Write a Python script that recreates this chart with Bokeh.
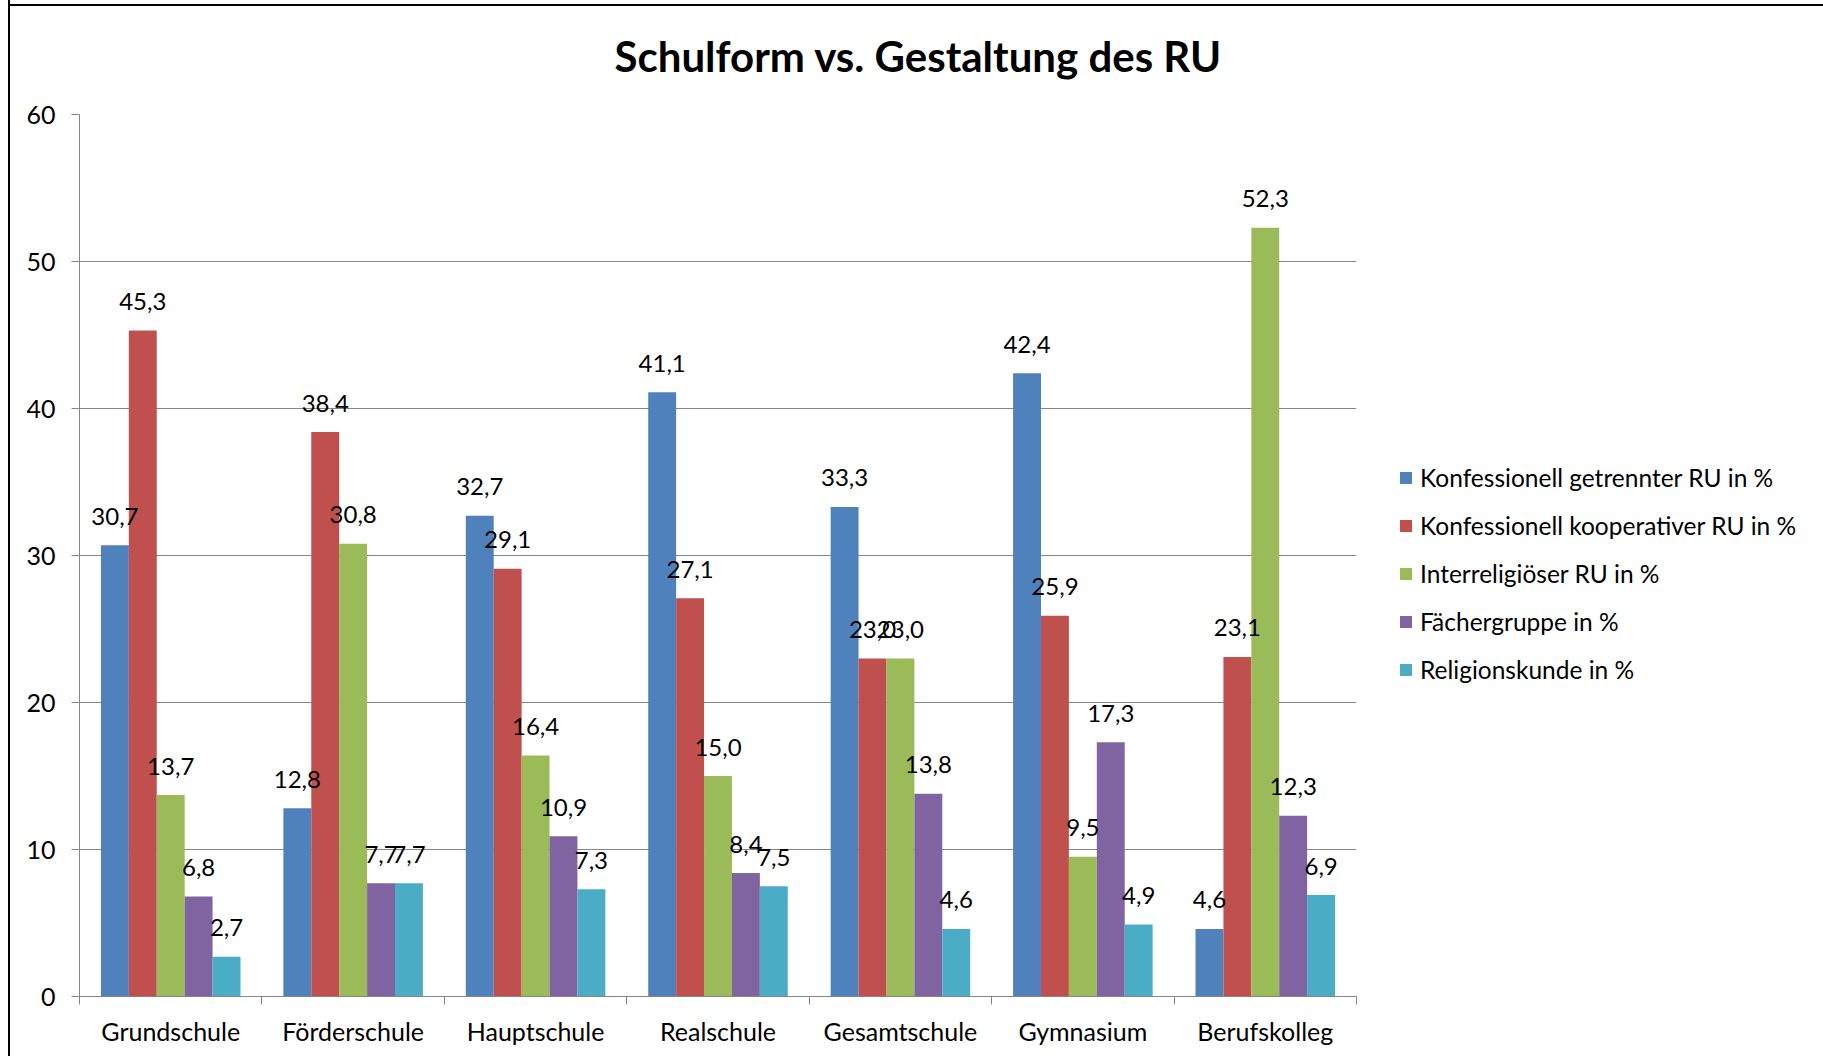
from bokeh.plotting import figure
from bokeh.models import ColumnDataSource, FixedTicker, Legend, LegendItem, Range1d
from bokeh.core.properties import value
from bokeh.embed import file_html
from bokeh.resources import INLINE

categories = ["Grundschule", "Förderschule", "Hauptschule", "Realschule", "Gesamtschule", "Gymnasium", "Berufskolleg"]
series_names = ["Konfessionell getrennter RU in %", "Konfessionell kooperativer RU in %",
                "Interreligiöser RU in %", "Fächergruppe in %", "Religionskunde in %"]
getrennt = [30.7, 12.8, 32.7, 41.1, 33.3, 42.4, 4.6]
kooperativ = [45.3, 38.4, 29.1, 27.1, 23.0, 25.9, 23.1]
interreligioes = [13.7, 30.8, 16.4, 15.0, 23.0, 9.5, 52.3]
faechergruppe = [6.8, 7.7, 10.9, 8.4, 13.8, 17.3, 12.3]
religionskunde = [2.7, 7.7, 7.3, 7.5, 4.6, 4.9, 6.9]
series = [getrennt, kooperativ, interreligioes, faechergruppe, religionskunde]
colors = ["#4F81BD", "#C0504D", "#9BBB59", "#8064A2", "#4BACC6"]
y_ticks = [0, 10, 20, 30, 40, 50, 60]

FONT = "Lato"
bar_w = 0.153

p = figure(frame_width=1277, frame_height=882, output_backend="svg", toolbar_location=None,
           x_range=Range1d(0, len(categories)), y_range=Range1d(0, 60),
           min_border_left=69, min_border_right=0, min_border_top=0, min_border_bottom=60,
           title="Schulform vs. Gestaltung des RU")
p.styles = {"border-left": "2px solid black",
            "background": "linear-gradient(#000, #000) 0 10px / 100% 2px no-repeat, white",
            "margin-left": "8px", "margin-top": "-6px"}
p.background_fill_color = "white"
p.border_fill_alpha = 0
p.outline_line_color = None

p.title.align = "left"
p.title.offset = 535
p.title.standoff = 68
p.title.text_font = FONT
p.title.text_font_size = "42px"
p.title.text_font_style = "bold"
p.title.text_color = "black"

legend_items = []
sources = []
for k, (vals, name, col) in enumerate(zip(series, series_names, colors)):
    xs = [i + 0.5 + (k - 2) * bar_w for i in range(len(categories))]
    labels = [f"{v:.1f}".replace(".", ",") for v in vals]
    src = ColumnDataSource(dict(x=xs, top=vals, lab=labels))
    sources.append(src)
    r = p.vbar(x="x", top="top", width=bar_w, bottom=0, source=src, fill_color=col,
               line_color=None)
    legend_items.append(LegendItem(label=name, renderers=[r]))

for src in sources:
    p.text(x="x", y="top", text="lab", source=src, text_align="center", text_baseline="middle",
           y_offset=-29, text_font=value(FONT), text_font_size="24px", text_color="black")

legend = Legend(items=legend_items, location=(42, 312), orientation="vertical")
legend.border_line_color = None
legend.background_fill_alpha = 0
legend.margin = 0
legend.padding = 0
legend.glyph_width = 15
legend.glyph_height = 15
legend.label_height = 30
legend.spacing = 18
legend.label_standoff = 7
legend.label_text_font = FONT
legend.label_text_font_size = "24.5px"
legend.label_text_color = "black"
p.add_layout(legend, "right")

axis_color = "#868686"
# x axis
p.xaxis.ticker = FixedTicker(ticks=[i + 0.5 for i in range(len(categories))],
                             minor_ticks=list(range(len(categories) + 1)))
p.xaxis.major_label_overrides = {i + 0.5: c for i, c in enumerate(categories)}
p.xaxis.major_tick_line_color = None
p.xaxis.major_tick_out = 0
p.xaxis.major_tick_in = 0
p.xaxis.minor_tick_line_color = axis_color
p.xaxis.minor_tick_out = 8
p.xaxis.minor_tick_in = 0
p.xaxis.axis_line_color = axis_color
p.xaxis.major_label_standoff = 11
p.xaxis.major_label_text_font = FONT
p.xaxis.major_label_text_font_size = "25px"
p.xaxis.major_label_text_color = "black"
p.xgrid.visible = False

# y axis
p.yaxis.ticker = FixedTicker(ticks=y_ticks, minor_ticks=[])
p.yaxis.axis_line_color = axis_color
p.yaxis.major_tick_line_color = axis_color
p.yaxis.major_tick_out = 8
p.yaxis.major_tick_in = 0
p.yaxis.minor_tick_line_color = None
p.yaxis.major_label_standoff = 16
p.yaxis.major_label_text_font = FONT
p.yaxis.major_label_text_font_size = "25px"
p.yaxis.major_label_text_color = "black"
p.ygrid.ticker = FixedTicker(ticks=y_ticks)
p.ygrid.grid_line_color = axis_color
p.ygrid.grid_line_width = 1

open("out.html", "w").write(file_html(p, INLINE))
